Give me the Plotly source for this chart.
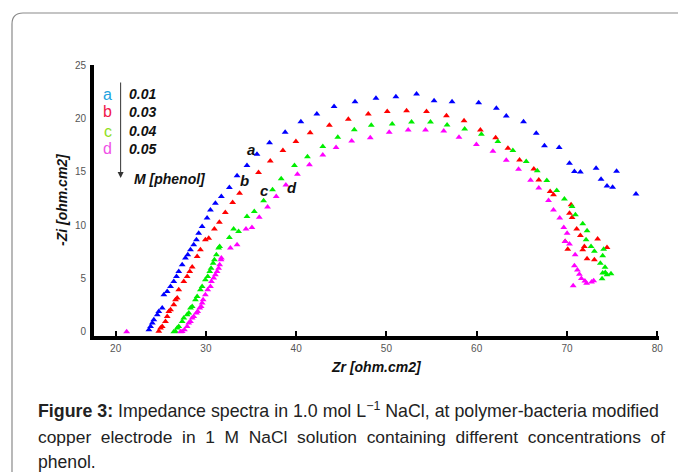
import plotly.graph_objects as go

# Impedance data (Zr, -Zi), ohm.cm2
zr_a = [23.68, 23.87, 24.06, 24.23, 24.61, 24.78, 25.16, 25.34, 25.71, 26.08, 26.44, 26.74, 26.99,
        27.37, 27.73, 27.99, 28.29, 28.65, 28.95, 29.20, 29.58, 30.13, 30.50, 31.05, 31.71, 32.60,
        33.45, 34.55, 35.66, 37.05, 38.78, 40.52, 42.29, 44.20, 46.52, 48.84, 51.05, 53.34, 55.28,
        57.27, 60.22, 62.18, 63.28, 65.19, 66.60, 67.51, 69.14, 70.28, 70.83, 71.49, 73.23, 73.78,
        74.44, 75.06, 75.50, 77.65]
zi_a = [0.19, 0.50, 0.81, 1.12, 1.59, 1.90, 2.22, 3.46, 3.77, 4.24, 4.71, 5.18, 5.65,
        6.27, 6.90, 7.21, 7.68, 8.15, 8.61, 9.24, 9.86, 10.65, 11.42, 12.05, 12.67, 13.51,
        14.63, 15.57, 16.64, 17.72, 18.70, 19.69, 20.41, 21.10, 21.56, 21.88, 22.03, 22.28, 21.66,
        21.56, 21.47, 20.95, 20.22, 19.69, 18.60, 17.44, 17.26, 15.80, 15.01, 14.98, 15.33, 14.30,
        13.67, 13.55, 15.05, 12.92]

zr_b = [24.78, 24.97, 25.16, 25.52, 25.71, 25.89, 26.08, 26.44, 26.63, 26.82, 26.99, 27.55, 27.92,
        28.21, 28.48, 29.03, 29.39, 29.94, 30.31, 30.94, 31.49, 32.15, 32.96, 33.73, 35.83, 37.13,
        38.53, 39.97, 41.55, 43.68, 45.78, 47.99, 50.09, 52.23, 54.44, 56.65, 58.60, 60.41, 62.10,
        63.46, 64.75, 66.33, 66.88, 68.14, 68.51, 70.46, 70.28, 70.57, 71.08, 71.49, 69.80, 70.09,
        71.75, 71.93, 72.23, 73.04, 73.40, 74.44]
zi_b = [0.05, 0.35, 0.50, 0.96, 1.43, 1.90, 2.06, 2.53, 3.00, 3.16, 3.93, 4.71, 5.18,
        5.65, 6.06, 7.05, 7.68, 8.61, 8.77, 9.64, 10.27, 11.17, 12.11, 12.99, 14.92, 16.01,
        16.98, 17.82, 18.66, 19.35, 19.92, 20.41, 20.63, 20.72, 20.63, 20.25, 19.78, 18.91, 18.19,
        17.20, 16.10, 15.26, 14.23, 13.14, 12.83, 11.89, 11.11, 10.70, 9.64, 9.02, 8.46, 7.74,
        7.68, 7.99, 6.84, 6.74, 8.68, 7.89]

zr_c = [26.44, 26.63, 26.82, 26.99, 27.37, 27.55, 27.92, 28.10, 28.29, 28.48, 28.84, 29.03, 29.39,
        29.58, 29.94, 30.20, 30.42, 30.57, 30.80, 30.94, 31.16, 31.41, 31.52, 32.60, 33.07, 33.62,
        34.55, 35.36, 36.39, 37.38, 38.34, 39.81, 41.25, 42.95, 44.61, 46.44, 48.32, 50.64, 52.78,
        54.88, 56.72, 58.67, 60.52, 62.35, 64.01, 65.49, 66.71, 67.77, 68.87, 69.72, 70.57, 70.94,
        71.75, 72.23, 72.12, 72.67, 73.04, 74.07, 73.96, 73.70, 74.22, 73.96, 74.44, 74.88, 73.89,
        74.25]
zi_c = [0.0, 0.03, 0.35, 0.50, 0.96, 1.28, 1.59, 1.75, 2.22, 2.37, 3.00, 3.31, 3.93,
        4.24, 4.87, 5.18, 5.65, 5.96, 6.43, 6.74, 7.21, 7.84, 7.99, 8.83, 9.62, 9.39,
        10.80, 11.26, 12.27, 13.30, 14.33, 15.59, 16.41, 17.35, 18.23, 18.94, 19.36, 19.48, 19.66,
        19.66, 19.38, 19.01, 18.51, 17.82, 16.98, 15.95, 15.10, 14.17, 13.23, 12.43, 11.73, 10.96,
        10.11, 9.46, 8.61, 7.99, 7.54, 7.74, 7.12, 6.43, 6.04, 5.50, 5.34, 5.43, 4.96,
        5.55]

zr_d = [21.22, 27.18, 27.37, 27.62, 27.92, 28.10, 28.29, 28.48, 28.65, 28.95, 29.09, 29.31, 29.47,
        29.58, 29.69, 29.94, 30.20, 30.50, 30.61, 30.86, 31.05, 31.24, 31.41, 31.52, 31.68, 31.71,
        32.71, 33.45, 34.44, 35.10, 35.91, 36.83, 37.79, 38.86, 40.14, 41.47, 42.95, 44.42, 46.15,
        48.21, 50.31, 52.41, 54.33, 56.35, 58.04, 59.97, 61.80, 63.28, 64.64, 65.97, 66.88, 67.96,
        68.51, 69.20, 69.65, 70.02, 69.80, 70.28, 70.91, 70.83, 71.16, 71.38, 71.60, 71.99, 72.18,
        72.73, 72.96, 70.69]
zi_d = [0.0, 0.0, 0.03, 0.19, 0.50, 0.81, 0.96, 1.28, 1.43, 1.75, 1.90, 2.22, 2.37,
        2.69, 3.00, 3.46, 3.93, 4.24, 4.71, 5.03, 5.34, 5.65, 5.96, 6.27, 6.74, 6.90,
        7.84, 8.15, 9.62, 9.77, 10.74, 11.68, 12.67, 13.76, 14.77, 15.64, 16.57, 17.26, 17.88,
        18.19, 18.70, 18.91, 18.91, 18.82, 18.23, 17.54, 16.92, 16.08, 15.23, 14.19, 13.46, 12.29,
        11.42, 10.65, 9.78, 9.24, 8.46, 8.22, 7.21, 6.18, 5.78, 5.38, 4.98, 4.75, 4.54,
        4.66, 4.78, 4.31]

letters = ['a', 'b', 'c', 'd']
conc = ['0.01', '0.03', '0.04', '0.05']
x_ticks = [20, 30, 40, 50, 60, 70, 80]
y_ticks = [0, 5, 10, 15, 20, 25]

marker_colors = ['#0000ff', '#ff0000', '#00ee00', '#ff00ff']
key_colors = ['#22a3e0', '#f0174a', '#90e01c', '#f050e6']

W, H = 678, 472
L, R, T, B = 94, 19, 65, 136
pw, ph = W - L - R, H - T - B


def px(x):
    return (x - L) / pw


def py(y):
    return (H - B - y) / ph


fig = go.Figure()
for zr, zi, c in zip([zr_a, zr_b, zr_c, zr_d], [zi_a, zi_b, zi_c, zi_d], marker_colors):
    fig.add_trace(go.Scatter(x=zr, y=zi, mode='markers',
                             marker=dict(symbol='triangle-up', size=6, color=c),
                             showlegend=False, hoverinfo='x+y'))

ann = []
# key: letters, concentrations, arrow
key_y = [22.28, 20.6, 18.8, 17.13]
for i in range(4):
    ann.append(dict(x=19.12, y=key_y[i], text=letters[i], showarrow=False,
                    font=dict(size=16, color=key_colors[i], family='Liberation Sans')))
    ann.append(dict(x=21.3, y=key_y[i], text='<b><i>' + conc[i] + '</i></b>', showarrow=False,
                    xanchor='left', font=dict(size=14, color='#111', family='Liberation Sans')))
ann.append(dict(x=20.55, y=14.4, ax=20.55, ay=23.5, xref='x', yref='y', axref='x', ayref='y',
                showarrow=True, arrowhead=2, arrowsize=1.2, arrowwidth=1, arrowcolor='#333', text=''))
ann.append(dict(x=21.8, y=14.3, text='<b><i>M [phenol]</i></b>', showarrow=False, xanchor='left',
                font=dict(size=14, color='#111', family='Liberation Sans')))

# curve labels
lab_pos = [(35.03, 17.04), (34.25, 14.14), (36.46, 13.2), (39.56, 13.48)]
for s, (lx, ly) in zip(letters, lab_pos):
    ann.append(dict(x=lx, y=ly, text='<b><i>' + s + '</i></b>', showarrow=False,
                    font=dict(size=15, color='#111', family='Liberation Sans')))

# axis titles
ann.append(dict(x=px(62), y=py(200), xref='paper', yref='paper', xanchor='center',
                text='<b><i>-Zi [ohm.cm2]</i></b>', textangle=-90, showarrow=False,
                font=dict(size=14, color='#111', family='Liberation Sans')))
ann.append(dict(x=px(376), y=py(377), xref='paper', yref='paper', text='<b><i>Zr [ohm.cm2]</i></b>',
                showarrow=False, font=dict(size=14, color='#111', family='Liberation Sans')))

# caption (second line spread out to mimic justified text)
line2 = 'copper electrode in 1 M NaCl solution containing different concentrations of'
cap = ['<b>Figure 3:</b> Impedance spectra in 1.0 mol L<sup>−1</sup> NaCl, at polymer-bacteria modified',
       ' \u00a0'.join(line2.split(' ')),
       'phenol.']
for s, yy, fs in zip(cap, [410, 437, 462], [17.8, 17.4, 17.6]):
    ann.append(dict(x=px(36), y=py(yy), xref='paper', yref='paper', text=s, showarrow=False,
                    xanchor='left', yanchor='middle',
                    font=dict(size=fs, color='#222', family='Liberation Sans')))

border = 'M {x0},{y0} L {x0},{y1} Q {x0},{y2} {x3},{y2} L {x4},{y2}'.format(
    x0=px(12), y0=py(490), y1=py(24), y2=py(13), x3=px(23), x4=px(700))

fig.update_layout(
    width=W, height=H,
    margin=dict(l=L, r=R, t=T, b=B),
    plot_bgcolor='white', paper_bgcolor='white',
    font=dict(family='Liberation Sans'),
    annotations=ann,
    shapes=[dict(type='path', path=border, xref='paper', yref='paper',
                 line=dict(color='#8a8a8a', width=1.2))],
    xaxis=dict(range=[17.6, 80.2], tickvals=x_ticks, showgrid=False, zeroline=False,
               showline=True, linecolor='black', linewidth=4,
               ticks='inside', ticklen=5, tickwidth=2, tickcolor='black',
               tickfont=dict(size=10, color='#555')),
    yaxis=dict(range=[-0.4, 25], tickvals=y_ticks, showgrid=False, zeroline=False,
               showline=True, linecolor='black', linewidth=4, ticks='',
               ticklabelstandoff=2, tickfont=dict(size=10, color='#555')),
)

fig.write_html('out.html', config={'displayModeBar': False},
               post_script="document.body.style.margin='0';")
